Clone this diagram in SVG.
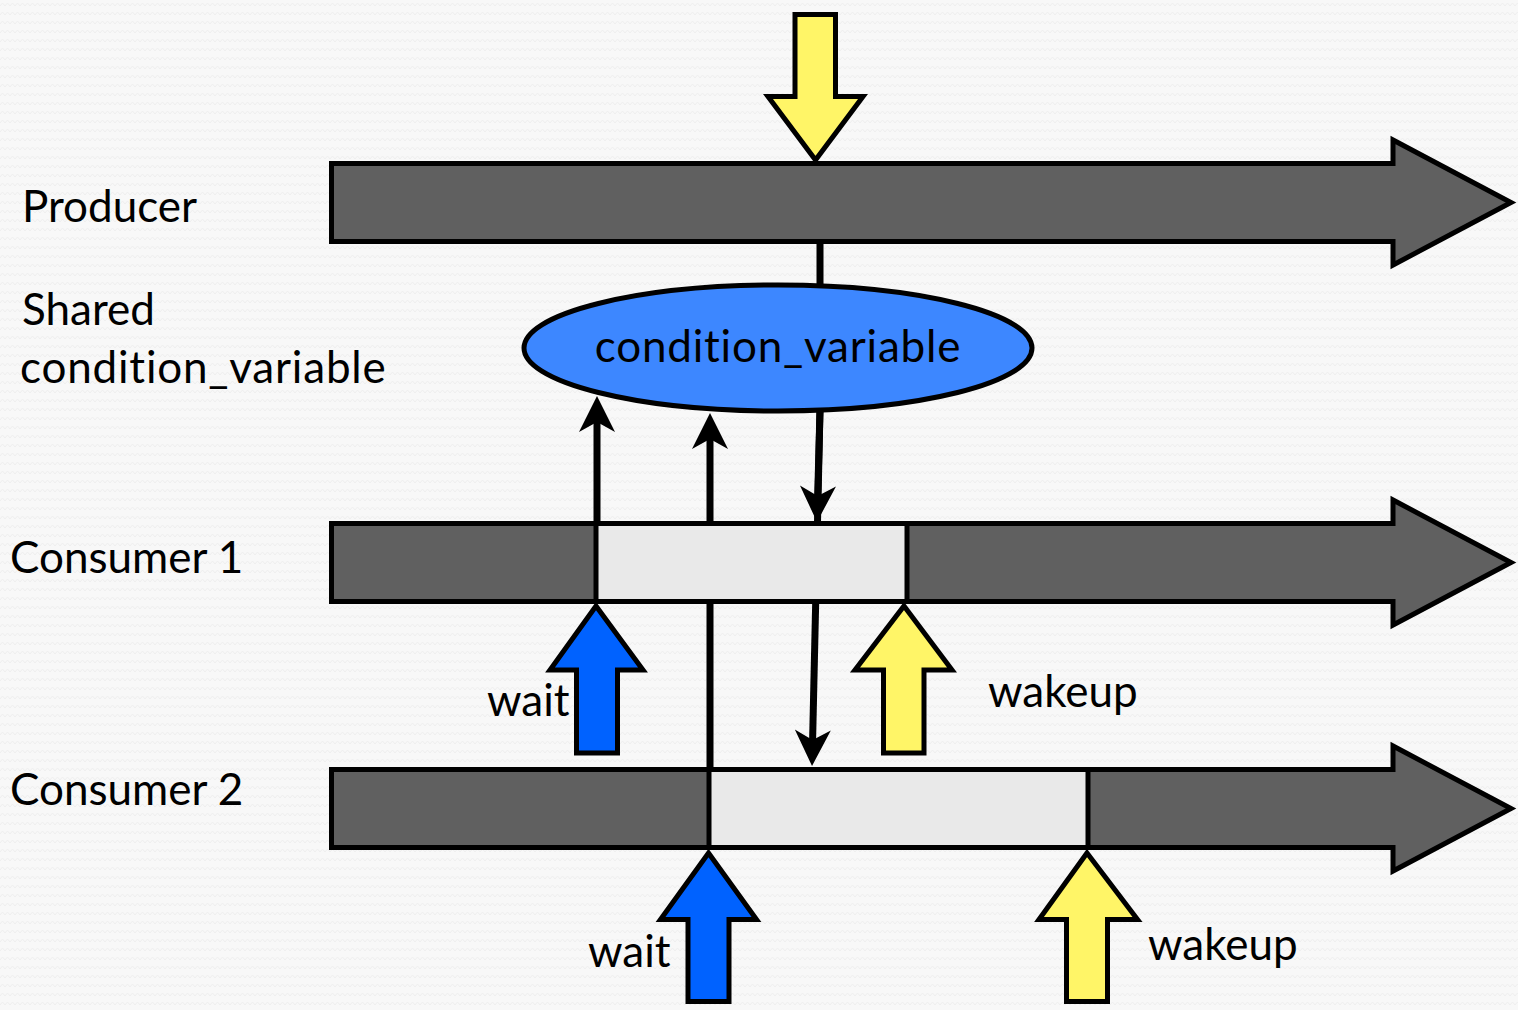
<svg xmlns="http://www.w3.org/2000/svg" width="1518" height="1010" viewBox="0 0 1518 1010">
  <style>
    .label { font-family: Lato, "Open Sans", "Liberation Sans", sans-serif; font-size: 44px; fill: #000; font-variant-ligatures: none; font-feature-settings: "liga" 0, "clig" 0, "dlig" 0; }
    .wide { letter-spacing: 0.8px; }
    .bar { fill: #606060; stroke: #000; stroke-width: 5; stroke-linejoin: miter; }
    .busy { fill: #e9e9e9; stroke: #000; stroke-width: 5; }
    .yellow { fill: #fff567; stroke: #000; stroke-width: 5; stroke-linejoin: miter; }
    .blue { fill: #0062ff; stroke: #000; stroke-width: 5; stroke-linejoin: miter; }
    .cv { fill: #3d87ff; stroke: #000; stroke-width: 5; }
    .conn { fill: none; stroke: #000; stroke-width: 7; }
  </style>
  <defs>
    <pattern id="bgTexture" width="10" height="9" patternUnits="userSpaceOnUse">
      <rect width="10" height="9" fill="#f8f8f8"/>
      <path d="M0,6 L2.5,3 L5,6 L7.5,3 L10,6" fill="none" stroke="#efefef" stroke-width="1"/>
    </pattern>
    <!-- barbed head; origin sits on the notch, tip 26px ahead -->
    <marker id="head" markerUnits="userSpaceOnUse" viewBox="-12 -20 40 40" markerWidth="40" markerHeight="40" refX="0" refY="0" orient="auto" overflow="visible">
      <path d="M26,0 L-10,-18 L0,0 L-10,18 Z" fill="#000"/>
    </marker>
  </defs>

  <rect width="1518" height="1010" fill="url(#bgTexture)"/>

  <!-- connectors -->
  <g id="connectors">
    <line class="conn" x1="820" y1="241" x2="820" y2="287"/>
    <line class="conn" x1="597" y1="523" x2="597" y2="422" marker-end="url(#head)"/>
    <line class="conn" x1="710" y1="769" x2="710" y2="439" marker-end="url(#head)"/>
    <line class="conn" x1="820" y1="410" x2="817.7" y2="496" marker-end="url(#head)"/>
    <line class="conn" x1="820" y1="410" x2="812.6" y2="740" marker-end="url(#head)"/>
  </g>

  <!-- producer timeline -->
  <g id="producer">
    <text class="label" x="22" y="222">Producer</text>
    <path class="bar" d="M331.5,163.5 H1393 V140 L1511,202.5 L1393,265 V241.5 H331.5 Z"/>
    <path class="yellow" d="M795,14.5 H835.5 V96.5 H863 L815.5,160 L768,96.5 H795 Z"/>
  </g>

  <!-- shared condition variable -->
  <g id="shared-cv">
    <text class="label" x="22" y="325">Shared</text>
    <text class="label wide" x="20" y="383">condition_variable</text>
    <ellipse class="cv" cx="778" cy="348" rx="254" ry="63"/>
    <text class="label wide" x="778" y="362" text-anchor="middle">condition_variable</text>
  </g>

  <!-- consumer 1 timeline -->
  <g id="consumer1">
    <text class="label" x="10" y="573">Consumer 1</text>
    <path class="bar" d="M331.5,523.5 H1393 V500 L1511,562.5 L1393,625 V601.5 H331.5 Z"/>
    <rect class="busy" x="596" y="523.5" width="311" height="78"/>
    <path class="blue" d="M596,606 L643,670 H617.5 V753 H576.5 V670 H550 Z"/>
    <text class="label" x="487" y="716">wait</text>
    <path class="yellow" d="M904,606 L952,670 H924 V753 H883.5 V670 H855 Z"/>
    <text class="label" x="988" y="707">wakeup</text>
  </g>

  <!-- consumer 2 timeline -->
  <g id="consumer2">
    <text class="label" x="10" y="805">Consumer 2</text>
    <path class="bar" d="M331.5,769.5 H1393 V746 L1511,808.5 L1393,871 V847.5 H331.5 Z"/>
    <rect class="busy" x="709" y="769.5" width="379" height="78"/>
    <path class="blue" d="M708.5,853 L756.5,919.5 H729 V1001.5 H688 V919.5 H660.5 Z"/>
    <text class="label" x="588" y="967">wait</text>
    <path class="yellow" d="M1087,853 L1137.5,919.5 H1107.5 V1001.5 H1066.5 V919.5 H1039 Z"/>
    <text class="label" x="1148" y="960">wakeup</text>
  </g>
</svg>
